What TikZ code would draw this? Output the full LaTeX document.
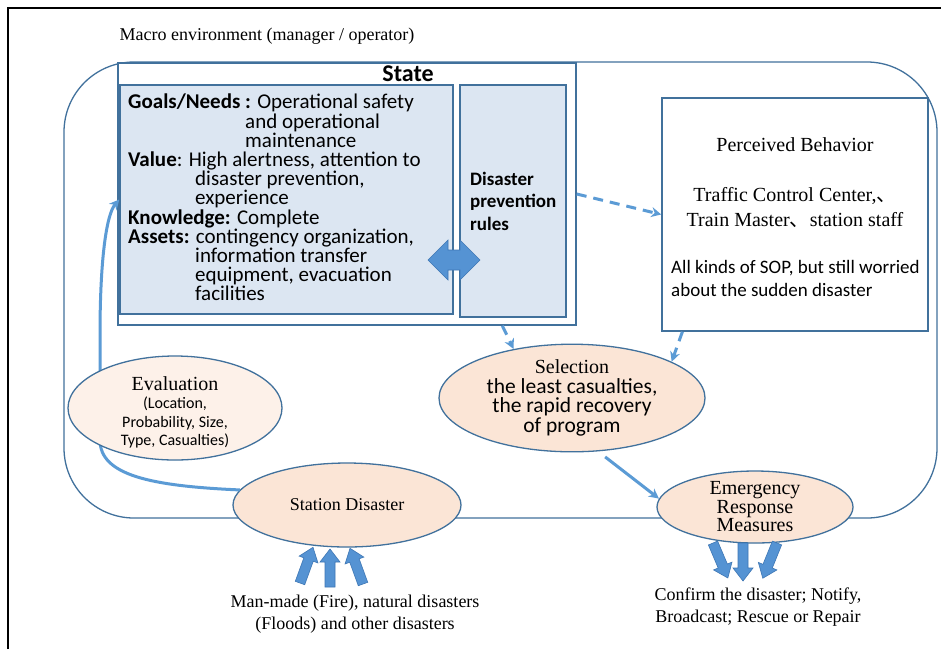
\documentclass[tikz,border=0pt]{standalone}
\usepackage{fontspec}
\setmainfont{Liberation Serif}
\newfontfamily\calib{Carlito}
\newfontfamily\cjk{Noto Sans CJK SC}
\usetikzlibrary{arrows.meta,shapes.geometric,calc}
\definecolor{bord}{HTML}{41719C}
\definecolor{lblue}{HTML}{DCE6F2}
\definecolor{peach}{HTML}{FBE5D6}
\definecolor{evalfill}{HTML}{FDF1E9}
\definecolor{arrblue}{HTML}{5B9BD5}
\definecolor{blockblue}{HTML}{5593D3}
\definecolor{blockedge}{HTML}{3D76B4}
\newcommand\fs[2]{\fontsize{#1}{#2}\selectfont}
\newcommand\blockarr[2]{\begin{scope}[shift={(#1)},rotate=#2]\filldraw[fill=blockblue,draw=blockedge,line width=0.6] (0,-5) -- (25,-5) -- (25,-10) -- (38,0) -- (25,10) -- (25,5) -- (0,5) -- cycle;\end{scope}}
\begin{document}
\begin{tikzpicture}[x=1pt,y=-1pt,
  boxn/.style={rectangle,draw=bord,line width=1.5,inner sep=0pt},
  ellip/.style={ellipse,draw=bord,line width=1.3,fill=peach,inner sep=0pt,align=center},
  dasharr/.style={draw=arrblue,line width=3,dash pattern=on 10pt off 7pt,-{Stealth[length=10pt,width=10pt]}},
  solarr/.style={draw=arrblue,line width=3,-{Stealth[length=10pt,width=10pt]}},
  txt/.style={inner sep=0pt,align=center}]
\useasboundingbox (0,0) rectangle (941,649);
\fill[white] (0,0) rectangle (941,649);
% outer frame
\draw[line width=1.6] (8,649) -- (8,8) -- (941,8);
\node[txt,font=\fs{18}{22}] (macro) at (267,36) {Macro environment (manager / operator)};
% macro environment rounded box
\draw[bord,line width=1.3,rounded corners=70] (64,62) rectangle (937,518);
% state boxes
\node[boxn,fill=white,minimum width=458pt,minimum height=262pt] (statebox) at (347,194) {};
\node[boxn,fill=lblue,minimum width=333pt,minimum height=229pt] (goals) at (286.5,199.5) {};
\node[boxn,fill=lblue,minimum width=106pt,minimum height=232pt] (dpr) at (513,201) {};
\node[txt,font=\calib\bfseries\fs{24}{24}] (statelbl) at (408,74) {State};
\node[inner sep=0pt,anchor=north west,align=left,font=\calib\fs{21}{19.2}] (goalstxt) at (128,94)
 {\textbf{Goals/Needs :} Operational safety\\
  \hspace*{117pt}and operational\\
  \hspace*{117pt}maintenance\\
  \textbf{Value}: High alertness, attention to\\
  \hspace*{67pt}disaster prevention,\\
  \hspace*{67pt}experience\\
  \textbf{Knowledge:} Complete\\
  \textbf{Assets:} contingency organization,\\
  \hspace*{67pt}information transfer\\
  \hspace*{67pt}equipment, evacuation\\
  \hspace*{67pt}facilities};
\node[inner sep=0pt,anchor=west,align=left,font=\calib\bfseries\fs{19}{22.5}] (dprtxt) at (470,201) {Disaster\\prevention\\rules};
% double arrow
\filldraw[fill=blockblue,draw=blockedge,line width=0.6] (428,260) -- (448,240) -- (448,250) -- (460,250) -- (460,240) -- (480,260) -- (460,280) -- (460,270) -- (448,270) -- (448,280) -- cycle;
% perceived behavior box
\node[boxn,fill=white,minimum width=266pt,minimum height=233pt] (perc) at (795,214.5) {};
\node[txt,font=\fs{20}{24}] (perctitle) at (795,145) {Perceived Behavior};
\node[txt,font=\fs{20}{25}] (percwho) at (795,208) {Traffic Control Center,{\cjk 、}\\Train Master{\cjk 、}station staff};
\node[inner sep=0pt,anchor=west,align=left,font=\calib\fs{19}{23}] (percsop) at (671,278) {All kinds of SOP, but still worried\\about the sudden disaster};
% station disaster
\node[ellip,minimum width=228pt,minimum height=84pt,font=\fs{18}{22}] (sd) at (347,505) {Station Disaster};
% feedback curve
\draw[solarr] (sd.172) .. controls (150,486) and (100,475) .. (100,440) -- (100,335) .. controls (100,262) and (106,215) .. (goals.west);
% evaluation
\node[ellip,fill=evalfill,minimum width=214pt,minimum height=104pt] (eval) at (175,408) {};
\node[txt,font=\calib\fs{16}{18.5}] (evaltxt) at (175,412.5)
 {{\rmfamily\fs{20}{21}Evaluation}\\(Location,\\Probability, Size,\\Type, Casualties)};
% selection
\node[ellip,minimum width=266pt,minimum height=92pt,font=\calib\fs{21.5}{19.5}] (sel) at (572,398)
 {{\rmfamily\fs{20}{19.5}Selection}\\the least casualties,\\the rapid recovery\\of program};
% emergency
\node[ellip,minimum width=196pt,minimum height=72pt,font=\fs{20}{18.5}] (emer) at (755,507) {Emergency\\Response\\Measures};
% connectors
\draw[dasharr] ($(statebox.south west)!0.838!(statebox.south east)$) -- (sel.140);
\draw[dasharr] ($(perc.south west)!0.079!(perc.south east)$) -- (sel.20);
\draw[dasharr] (statebox.east) -- (perc.west);
\draw[solarr,shorten <=9pt] (sel.-64) -- (emer.175);
% block arrows
\blockarr{300,583}{70}
\blockarr{330,587}{90}
\blockarr{363,584}{110}
\blockarr{713,543}{-67}
\blockarr{743,543}{-90}
\blockarr{777,543}{-112}
\node[txt,font=\fs{18}{22}] (srcs) at (355,614) {Man-made (Fire), natural disasters\\(Floods) and other disasters};
\node[txt,font=\fs{18}{22}] (resp) at (758,607) {Confirm the disaster; Notify,\\Broadcast; Rescue or Repair};
\end{tikzpicture}
\end{document}
